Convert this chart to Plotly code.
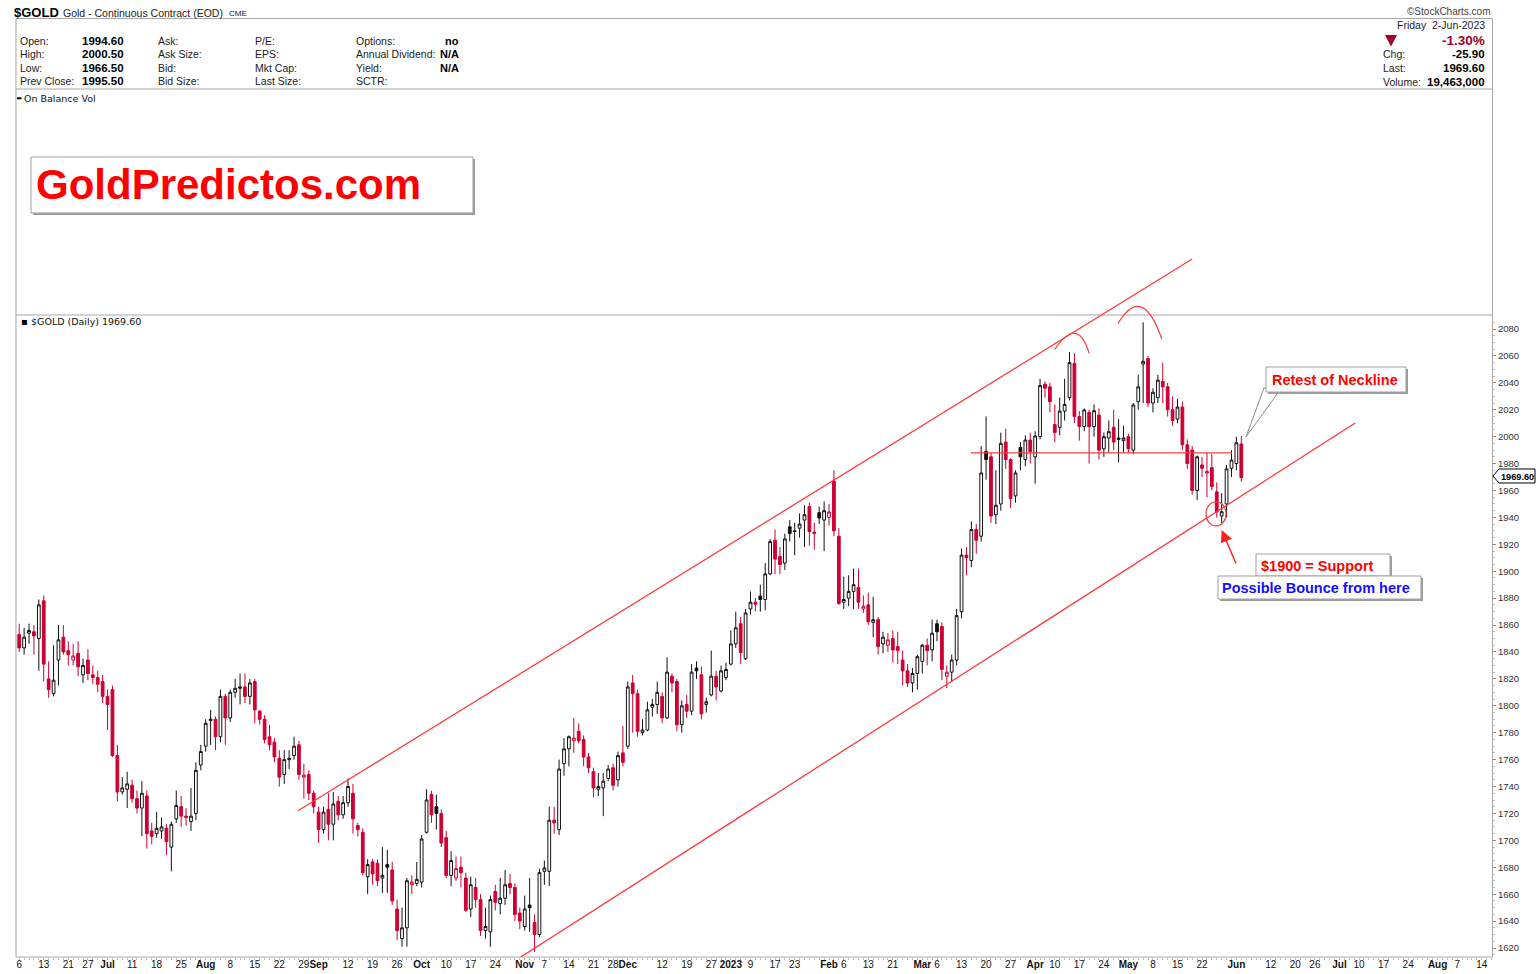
import pandas as pd
import plotly.graph_objects as go

# ---------------- data (daily $GOLD candles, Jun 6 2022 .. Jun 2 2023) ----------------
opens = [
    1853, 1843, 1854, 1855, 1850, 1878, 1820, 1809, 1834, 1851,
    1841, 1834, 1839, 1823, 1834, 1823, 1821, 1818, 1807, 1812,
    1763, 1736, 1738, 1741, 1731, 1724, 1733, 1707, 1705, 1707,
    1709, 1695, 1716, 1725, 1718, 1714, 1720, 1756, 1770, 1789,
    1790, 1777, 1807, 1791, 1810, 1813, 1814, 1807, 1818, 1796,
    1790, 1777, 1773, 1761, 1749, 1760, 1763, 1771, 1747, 1749,
    1735, 1721, 1708, 1723, 1712, 1729, 1719, 1728, 1735, 1711,
    1706, 1673, 1684, 1683, 1672, 1682, 1678, 1649, 1627, 1635,
    1667, 1668, 1669, 1706, 1734, 1725, 1720, 1702, 1674, 1672,
    1680, 1672, 1649, 1665, 1656, 1633, 1632, 1662, 1653, 1657,
    1668, 1665, 1646, 1636, 1652, 1639, 1630, 1677, 1677, 1715,
    1708, 1757, 1768, 1774, 1781, 1775, 1762, 1751, 1738, 1739,
    1746, 1754, 1745, 1765, 1770, 1817, 1809, 1780, 1782, 1799,
    1801, 1807, 1791, 1822, 1818, 1786, 1801, 1796, 1828, 1823,
    1801, 1808, 1822, 1811, 1821, 1831, 1846, 1861, 1835, 1872,
    1877, 1881.5, 1879, 1898, 1923, 1911, 1906, 1933, 1930, 1932,
    1938, 1948, 1928, 1943.5, 1938, 1940, 1967, 1926, 1877, 1880,
    1885, 1888, 1872, 1875, 1862, 1864, 1846, 1845, 1850, 1844,
    1834, 1826, 1817, 1824, 1833, 1845, 1841.5, 1861, 1859, 1822,
    1825, 1834, 1870, 1912, 1908, 1931, 1926, 1989, 1985, 1942,
    1950, 1996, 1983, 1956, 1992, 1983, 1997.5, 1985, 2000, 2039,
    2037, 2009, 2007, 2019, 2029, 2054.5, 2015, 2007.5, 2018, 2007.5,
    2016, 1991, 1999, 2007, 1999, 1997, 2000, 1990, 2026, 2054,
    2058, 2025, 2029, 2041, 2037, 2020, 2013, 2022, 1994, 1990,
    1960, 1979, 1973, 1977, 1959, 1941, 1950, 1976.5, 1980, 1994.6,
]
highs = [
    1861, 1858, 1861, 1860, 1879, 1882, 1833, 1845, 1860, 1860,
    1848, 1846, 1848, 1835, 1842, 1830, 1826, 1823, 1812, 1815,
    1771, 1747, 1751, 1745, 1737, 1744, 1737, 1713, 1721, 1717,
    1712, 1714, 1737, 1733, 1724, 1739, 1758, 1771, 1790, 1797,
    1792, 1812, 1809, 1812, 1820, 1824, 1824, 1820, 1820, 1797,
    1793, 1786, 1776, 1767, 1767, 1767, 1777, 1774, 1757, 1752,
    1737, 1725, 1725, 1735, 1736, 1733, 1733, 1746, 1742, 1713,
    1709, 1686, 1686, 1686, 1695, 1693, 1684, 1656, 1650, 1672,
    1674, 1684, 1704, 1738, 1737, 1734, 1723, 1707, 1692, 1688,
    1688, 1676, 1673, 1672, 1660, 1650, 1659, 1667, 1672, 1678,
    1675, 1668, 1650, 1659, 1672, 1645, 1679, 1685, 1725, 1725,
    1760, 1776, 1778, 1791, 1787, 1778, 1765, 1754, 1750, 1750,
    1756, 1757, 1766, 1785, 1818, 1823, 1812, 1790, 1803, 1805,
    1818, 1810, 1836, 1824, 1820, 1804, 1808, 1831, 1833, 1829,
    1806, 1841, 1826, 1830, 1832, 1856, 1870, 1866, 1872, 1885,
    1880, 1890, 1906, 1924, 1931, 1918, 1928, 1938, 1936, 1943,
    1949, 1951, 1936, 1948, 1952, 1950, 1975, 1932, 1896, 1897,
    1902, 1902, 1882, 1884, 1881, 1866, 1855, 1854, 1856, 1855,
    1841, 1831, 1828, 1838, 1846, 1850, 1864, 1864, 1862, 1830,
    1838, 1872, 1917, 1918, 1937, 1935, 1993, 2015, 1988, 1975,
    2003, 2006, 1984, 1975, 1996, 2001, 2003, 2004, 2043, 2041,
    2040, 2024, 2029, 2043, 2063, 2062, 2019, 2021, 2020, 2024,
    2021, 2003, 2012, 2020, 2013, 2008, 2002, 2025, 2046, 2085,
    2060, 2036, 2046, 2055, 2040, 2030, 2028, 2026, 1998, 1993,
    1986, 1985, 1988, 1987, 1966, 1958, 1979, 1990, 2000, 2000.5,
]
lows = [
    1840, 1838, 1846, 1838, 1826, 1818, 1806, 1807, 1815, 1838,
    1830, 1830, 1822, 1817, 1819, 1816, 1810, 1802, 1782, 1762,
    1729, 1734, 1724, 1728, 1720, 1703, 1694, 1697, 1702, 1701,
    1689, 1677, 1713, 1710, 1711, 1707, 1715, 1752, 1766, 1771,
    1767, 1773, 1771, 1788, 1806, 1801, 1802, 1801, 1787, 1786,
    1772, 1767, 1758, 1740, 1742, 1753, 1760, 1745, 1731, 1730,
    1720, 1698, 1705, 1700, 1700, 1715, 1716, 1725, 1705, 1703,
    1674, 1660, 1667, 1666, 1661, 1661, 1652, 1626, 1621, 1621,
    1660, 1666, 1665, 1705, 1713, 1708, 1695, 1672, 1666, 1670,
    1665, 1647, 1643, 1650, 1629, 1627, 1621, 1648, 1645, 1652,
    1660, 1640, 1634, 1633, 1632, 1617, 1628, 1667, 1666, 1705,
    1704, 1748, 1755, 1765, 1772, 1755, 1750, 1732, 1733, 1718,
    1744, 1737, 1740, 1755, 1768, 1780, 1777, 1778, 1781, 1792,
    1794, 1787, 1790, 1810, 1781, 1780, 1791, 1793, 1820, 1790,
    1795, 1807, 1804, 1810, 1819, 1830, 1843, 1831, 1834, 1868,
    1870, 1870, 1871, 1897, 1898, 1898, 1901, 1922, 1912, 1925,
    1918, 1919, 1916, 1935, 1915, 1934, 1926, 1875, 1872, 1874,
    1872, 1872, 1869, 1860, 1851, 1838, 1839, 1840, 1832, 1831,
    1815, 1814, 1810, 1812, 1824, 1830, 1833, 1848, 1819, 1813,
    1818, 1830, 1865, 1897, 1903, 1913, 1922, 1968, 1936, 1935,
    1945, 1976, 1947, 1951, 1975, 1978, 1980, 1965, 1998, 2029,
    2018, 1996, 2001, 2012, 2027, 2010, 1997, 2004, 1980, 2000,
    1983, 1985, 1988, 1990, 1981, 1988, 1988, 1987, 2020, 2025,
    2022, 2018, 2025, 2025, 2015, 2008, 2010, 1990, 1976, 1957,
    1953, 1970, 1955, 1960, 1940, 1935.6, 1940, 1970, 1975, 1966.5,
]
closes = [
    1843, 1851, 1856, 1852, 1875, 1831, 1812, 1819, 1849, 1840,
    1838, 1837, 1829, 1830, 1824, 1821, 1816, 1807, 1801, 1763,
    1736, 1739, 1742, 1731, 1724, 1735, 1705, 1703, 1709, 1710,
    1699, 1712, 1726, 1718, 1717, 1718, 1752, 1766, 1787, 1790,
    1777, 1807, 1791, 1810, 1813, 1814, 1807, 1817, 1797, 1790,
    1775, 1771, 1762, 1747, 1760, 1761, 1770, 1749, 1748.5, 1735,
    1725, 1708, 1721, 1712, 1727, 1719, 1728, 1740, 1716, 1708,
    1676, 1682, 1675, 1670, 1674, 1680, 1655, 1633, 1635, 1670,
    1669, 1671, 1701, 1730, 1719, 1720, 1698, 1674, 1685, 1679,
    1676, 1648, 1667, 1656, 1633, 1636, 1656, 1654, 1657, 1667,
    1665, 1645, 1640, 1649, 1650, 1630, 1676, 1679.5, 1715, 1713,
    1753, 1768, 1777, 1776, 1774, 1762, 1754, 1739, 1740, 1744,
    1753, 1741, 1763, 1758, 1814, 1809, 1781, 1782, 1797, 1801,
    1810, 1791, 1825, 1817, 1786, 1800, 1796, 1825, 1826, 1794,
    1803, 1822, 1814, 1826, 1827, 1846, 1858, 1839.5, 1869, 1877,
    1875.5, 1879, 1898, 1922, 1909, 1905, 1924, 1928, 1929.5, 1935,
    1942, 1929.5, 1929, 1939.5, 1945, 1944, 1930, 1876, 1879, 1885,
    1890, 1877, 1874, 1862.5, 1864, 1844, 1851, 1849, 1841.5, 1841,
    1826, 1817, 1824, 1836.5, 1845, 1841, 1854, 1855, 1827, 1825,
    1834, 1867, 1912, 1910, 1931, 1923, 1973, 1983, 1941, 1949,
    1995, 1983, 1954, 1973, 1985, 1997.5, 1989, 2000.5, 2038, 2036,
    2026, 2003, 2019, 2024, 2055, 2015, 2007.5, 2019.8, 2007.4, 2019.3,
    1990, 2000, 2003.7, 1996, 1998, 1999, 1991, 2023.5, 2037, 2056,
    2025, 2033, 2042, 2037, 2020, 2012, 2022, 1994, 1980, 1960,
    1985, 1976.5, 1974, 1963, 1944, 1944.2, 1976, 1982.6, 1995.5, 1969.6,
]

# trading calendar
cal_start = "2022-06-06"
cal_end = "2023-08-18"
holidays = ["2022-06-20", "2022-07-04", "2022-09-05", "2022-11-24", "2022-12-26",
            "2023-01-02", "2023-01-16", "2023-02-20", "2023-04-07", "2023-05-29",
            "2023-06-19", "2023-07-04"]

# x-axis tick labels
tick_dates = ["2022-06-06", "2022-06-13", "2022-06-21", "2022-06-27", "2022-07-01", "2022-07-11",
              "2022-07-18", "2022-07-25", "2022-08-01", "2022-08-08", "2022-08-15", "2022-08-22",
              "2022-08-29", "2022-09-01", "2022-09-12", "2022-09-19", "2022-09-26", "2022-10-03",
              "2022-10-10", "2022-10-17", "2022-10-24", "2022-11-01", "2022-11-07", "2022-11-14",
              "2022-11-21", "2022-11-28", "2022-12-01", "2022-12-12", "2022-12-19", "2022-12-27",
              "2023-01-03", "2023-01-09", "2023-01-17", "2023-01-23", "2023-02-01", "2023-02-06",
              "2023-02-13", "2023-02-21", "2023-03-01", "2023-03-06", "2023-03-13", "2023-03-20",
              "2023-03-27", "2023-04-03", "2023-04-10", "2023-04-17", "2023-04-24", "2023-05-01",
              "2023-05-08", "2023-05-15", "2023-05-22", "2023-06-01", "2023-06-12", "2023-06-20",
              "2023-06-26", "2023-07-03", "2023-07-10", "2023-07-17", "2023-07-24", "2023-08-01",
              "2023-08-07", "2023-08-14"]
tick_labels = ["6", "13", "21", "27", "Jul", "11", "18", "25", "Aug", "8", "15", "22",
               "29", "Sep", "12", "19", "26", "Oct", "10", "17", "24", "Nov", "7", "14",
               "21", "28", "Dec", "12", "19", "27", "2023", "9", "17", "23", "Feb", "6",
               "13", "21", "Mar", "6", "13", "20", "27", "Apr", "10", "17", "24", "May",
               "8", "15", "22", "Jun", "12", "20", "26", "Jul", "10", "17", "24", "Aug",
               "7", "14"]
y_tick_values = [1620, 1640, 1660, 1680, 1700, 1720, 1740, 1760, 1780, 1800, 1820, 1840,
                 1860, 1880, 1900, 1920, 1940, 1960, 1980, 2000, 2020, 2040, 2060, 2080]

# analysis overlays (trading-day index, price)
upper_channel_x = [56.8, 239.0]
upper_channel_y = [1722.0, 2132.0]
lower_channel_x = [102.2, 272.2]
lower_channel_y = [1613.3, 2010.1]
neckline_x = [193.9, 247.1]
neckline_y = [1988.0, 1988.0]
arc1_x = [211.0, 215.1, 218.0]
arc1_y = [2064.9, 2076.8, 2061.9]
arc2_x = [223.9, 228.6, 232.8]
arc2_y = [2084.1, 2096.3, 2072.6]
circle_x = [241.8, 245.9]
circle_y = [1933.7, 1951.5]
arrow_tip = [245.0, 1930.6]

# ---------------- geometry ----------------
W, H = 1536, 974
PL, PR, PT, PB = 16, 1492, 89, 957        # plot area in pixels
PX_PER_DAY = 4.908
X0_PIX = 19.2                              # pixel centre of first candle
PX_PER_USD = 1.3457
REF_PRICE, REF_PIX = 2080, 329

x_range = [(PL - X0_PIX) / PX_PER_DAY, (PR - X0_PIX) / PX_PER_DAY]
y_range = [REF_PRICE - (PB - REF_PIX) / PX_PER_USD, REF_PRICE + (REF_PIX - PT) / PX_PER_USD]


def X(p):
    return (p - PL) / (PR - PL)


def Y(p):
    return (PB - p) / (PB - PT)


# calendar -> index
days = [d for d in pd.bdate_range(cal_start, cal_end) if d.strftime("%Y-%m-%d") not in holidays]
day_index = {d.strftime("%Y-%m-%d"): i for i, d in enumerate(days)}

n = min(len(opens), len(highs), len(lows), len(closes))
xs = list(range(n))

RED = "#CC0033"
black_i, red_i = [], []
for i in range(n):
    prev = closes[i - 1] if i > 0 else opens[0]
    (black_i if closes[i] >= prev else red_i).append(i)


def sub(lst, idx):
    return [lst[i] for i in idx]


fig = go.Figure()
fig.add_trace(go.Candlestick(
    x=sub(xs, black_i), open=sub(opens, black_i), high=sub(highs, black_i),
    low=sub(lows, black_i), close=sub(closes, black_i),
    increasing=dict(line=dict(color="#111111", width=1), fillcolor="#FFFFFF"),
    decreasing=dict(line=dict(color="#111111", width=1), fillcolor="#111111"),
    showlegend=False, hoverinfo="skip"))
fig.add_trace(go.Candlestick(
    x=sub(xs, red_i), open=sub(opens, red_i), high=sub(highs, red_i),
    low=sub(lows, red_i), close=sub(closes, red_i),
    increasing=dict(line=dict(color=RED, width=1), fillcolor="#FFFFFF"),
    decreasing=dict(line=dict(color=RED, width=1), fillcolor=RED),
    showlegend=False, hoverinfo="skip"))

shapes = []
ann = []
LINE_RED = "#FF3B3B"
FRAME = "#A8A8A8"

# frame and panel separators
shapes.append(dict(type="rect", xref="paper", yref="paper", x0=X(16), x1=X(1492.5), y0=Y(957), y1=Y(18.5),
                   line=dict(color=FRAME, width=1), layer="above"))
for yy in (89, 315):
    shapes.append(dict(type="line", xref="paper", yref="paper", x0=X(16), x1=X(1492.5), y0=Y(yy), y1=Y(yy),
                       line=dict(color=FRAME, width=1), layer="above"))

# channel lines / neckline
for lx, ly in ((upper_channel_x, upper_channel_y), (lower_channel_x, lower_channel_y), (neckline_x, neckline_y)):
    shapes.append(dict(type="line", xref="x", yref="y", x0=lx[0], x1=lx[1], y0=ly[0], y1=ly[1],
                       line=dict(color=LINE_RED, width=1.3), layer="above"))

# arcs (quadratic curves through start, peak, end)
for ax_, ay_ in ((arc1_x, arc1_y), (arc2_x, arc2_y)):
    cx = 2 * ax_[1] - (ax_[0] + ax_[2]) / 2
    cy = 2 * ay_[1] - (ay_[0] + ay_[2]) / 2
    path = "M %f,%f Q %f,%f %f,%f" % (ax_[0], ay_[0], cx, cy, ax_[2], ay_[2])
    shapes.append(dict(type="path", xref="x", yref="y", path=path,
                       line=dict(color=LINE_RED, width=1.2), layer="above"))

# circle
shapes.append(dict(type="circle", xref="x", yref="y", x0=circle_x[0], x1=circle_x[1],
                   y0=circle_y[0], y1=circle_y[1], line=dict(color=LINE_RED, width=1.2), layer="above"))

# arrow
ann.append(dict(x=arrow_tip[0], y=arrow_tip[1], xref="x", yref="y", ax=15, ay=35, text="",
                showarrow=True, arrowhead=2, arrowsize=1.7, arrowwidth=1.4, arrowcolor="#FF2020"))


def box(x0, y0, x1, y1, sh=2):
    shapes.append(dict(type="rect", xref="paper", yref="paper", x0=X(x0 + sh), x1=X(x1 + sh),
                       y0=Y(y1 + sh), y1=Y(y0 + sh), fillcolor="#9C9C9C", line=dict(width=0), layer="above"))
    shapes.append(dict(type="rect", xref="paper", yref="paper", x0=X(x0), x1=X(x1),
                       y0=Y(y1), y1=Y(y0), fillcolor="#FFFFFF", line=dict(color="#A0A0A0", width=1),
                       layer="above"))


def txt(s, x, y, size=10.5, color="#222222", bold=False, xanchor="left", family="Liberation Sans"):
    ann.append(dict(text=("<b>%s</b>" % s) if bold else s, x=X(x), y=Y(y), xref="paper", yref="paper",
                    xanchor=xanchor, yanchor="middle", showarrow=False,
                    font=dict(family=family, size=size, color=color)))


# callout wedge for "Retest of Neckline"
shapes.append(dict(type="path", xref="paper", yref="paper",
                   path="M %f,%f L %f,%f L %f,%f Z" % (X(1264), Y(388), X(1246), Y(437), X(1280), Y(390)),
                   fillcolor="#FFFFFF", line=dict(color="#8C8C8C", width=1), layer="above"))

box(31, 157, 473, 213)
box(1266, 367, 1406, 392)
box(1256, 554, 1390, 576)
box(1218, 576, 1421, 599)

txt("GoldPredictos.com", 34, 185, size=42, color="#FF0000", bold=True)
txt("Retest of Neckline", 1270, 379.5, size=14.5, color="#FF0000", bold=True)
txt("$1900 = Support", 1259, 565.5, size=14.5, color="#FF0000", bold=True)
txt("Possible Bounce from here", 1220, 588, size=14.5, color="#1010FF", bold=True)

# last price tag
shapes.append(dict(type="path", xref="paper", yref="paper",
                   path="M %f,%f L %f,%f L %f,%f L %f,%f L %f,%f Z" % (
                       X(1493), Y(476), X(1499), Y(469), X(1535), Y(469), X(1535), Y(483), X(1499), Y(483)),
                   fillcolor="#FFFFFF", line=dict(color="#000000", width=1), layer="above"))
txt("1969.60", 1499, 476.5, size=9.2, color="#000000", bold=True)

# header
txt("$GOLD", 12, 12, size=13, color="#000000", bold=True)
txt("Gold - Continuous Contract (EOD)", 61, 12.5, size=10.5, color="#222222")
txt("CME", 227, 13, size=8, color="#222222")
txt("©StockCharts.com", 1493, 11.5, size=10, color="#444444", xanchor="right")

rows_y = [40.5, 54, 67.5, 81]
col1 = ["Open:", "High:", "Low:", "Prev Close:"]
col1v = ["1994.60", "2000.50", "1966.50", "1995.50"]
col2 = ["Ask:", "Ask Size:", "Bid:", "Bid Size:"]
col3 = ["P/E:", "EPS:", "Mkt Cap:", "Last Size:"]
col4 = ["Options:", "Annual Dividend:", "Yield:", "SCTR:"]
col4v = ["no", "N/A", "N/A", ""]
for k, yy in enumerate(rows_y):
    txt(col1[k], 17.5, yy, size=10.5)
    txt(col1v[k], 126, yy, size=11.5, color="#000000", bold=True, xanchor="right")
    txt(col2[k], 156, yy, size=10.5)
    txt(col3[k], 252.5, yy, size=10.5)
    txt(col4[k], 354, yy, size=10.5)
    if col4v[k]:
        txt(col4v[k], 461, yy, size=11, color="#000000", bold=True, xanchor="right")

txt("Friday  2-Jun-2023", 1487, 25, size=10.5, xanchor="right")
shapes.append(dict(type="path", xref="paper", yref="paper",
                   path="M %f,%f L %f,%f L %f,%f Z" % (X(1385), Y(35), X(1397), Y(35), X(1391), Y(46.5)),
                   fillcolor="#A0002A", line=dict(width=0), layer="above"))
txt("-1.30%", 1487, 40.5, size=13.5, color="#A0002A", bold=True, xanchor="right")
for lab, val, yy in (("Chg:", "-25.90", 54), ("Last:", "1969.60", 68), ("Volume:", "19,463,000", 82.5)):
    txt(lab, 1381, yy, size=10.5)
    txt(val, 1487, yy, size=11.5, color="#000000", bold=True, xanchor="right")

# panel titles
shapes.append(dict(type="line", xref="paper", yref="paper", x0=X(17), x1=X(21.5), y0=Y(98.3), y1=Y(98.3),
                   line=dict(color="#000000", width=2), layer="above"))
txt("On Balance Vol", 22, 98.5, size=9.5, color="#111111", family="DejaVu Sans")
txt("▪", 19, 321.5, size=10, color="#000000", family="DejaVu Sans")
txt("$GOLD (Daily) 1969.60", 29, 321.5, size=9.5, color="#111111", family="DejaVu Sans")

# ticks
tickvals = [day_index[d] for d in tick_dates if d in day_index]
bold_set = {"Jul", "Aug", "Sep", "Oct", "Nov", "Dec", "2023", "Feb", "Mar", "Apr", "May", "Jun"}
ticktext = [("<b>%s</b>" % t) if t in bold_set else t for d, t in zip(tick_dates, tick_labels) if d in day_index]
minor_y = [v for v in range(1615, 2090, 5) if v % 20 != 0]

fig.update_layout(
    width=W, height=H,
    margin=dict(l=PL, r=W - PR, t=PT, b=H - PB, pad=0, autoexpand=False),
    paper_bgcolor="#FFFFFF", plot_bgcolor="#FFFFFF",
    boxgap=0.2,
    shapes=shapes, annotations=ann,
    xaxis=dict(range=x_range, tickmode="array", tickvals=tickvals, ticktext=ticktext,
               tickangle=0, automargin=False,
               ticks="", showgrid=False, zeroline=False,
               showline=False, rangeslider=dict(visible=False),
               tickfont=dict(family="Liberation Sans", size=10, color="#111111"),
               minor=dict(ticks="outside", ticklen=2, tickcolor="#BBBBBB", tickmode="linear",
                          tick0=0, dtick=1, showgrid=False)),
    yaxis=dict(range=y_range, side="right", tickmode="array", tickvals=y_tick_values,
               automargin=False,
               ticks="outside", ticklen=3, tickcolor="#888888", showgrid=False, zeroline=False,
               showline=False, tickfont=dict(family="Liberation Sans", size=9.5, color="#333333"),
               minor=dict(ticks="outside", ticklen=2, tickcolor="#BBBBBB", tickmode="array",
                          tickvals=minor_y, showgrid=False)),
)

fig.write_html("out.html", config={"displayModeBar": False},
               post_script="document.body.style.margin='0';")
